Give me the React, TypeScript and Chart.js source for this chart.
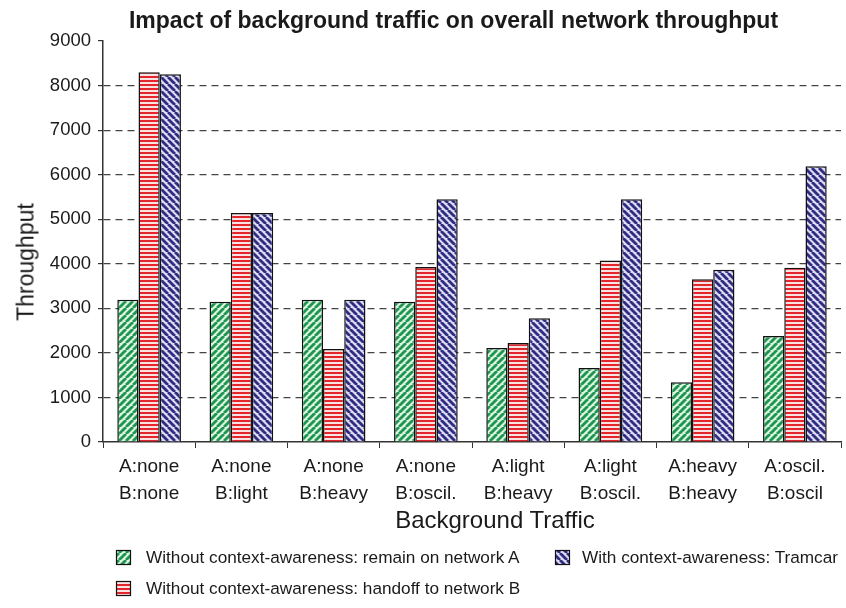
import React, { useEffect, useRef } from "react";
import { Chart, registerables } from "chart.js";

Chart.register(...registerables);

// ---------- data ----------
const titleText = "Impact of background traffic on overall network throughput";
const xAxisTitle = "Background Traffic";
const yAxisTitle = "Throughput";

const categories: string[][] = [
  ["A:none", "B:none"],
  ["A:none", "B:light"],
  ["A:none", "B:heavy"],
  ["A:none", "B:oscil."],
  ["A:light", "B:heavy"],
  ["A:light", "B:oscil."],
  ["A:heavy", "B:heavy"],
  ["A:oscil.", "B:oscil"],
];

const seriesLabels = [
  "Without context-awareness: remain on network A",
  "Without context-awareness: handoff to network B",
  "With context-awareness: Tramcar",
];

const remainOnA = [3195, 3150, 3195, 3150, 2108, 1659, 1343, 2380];
const handoffToB = [8296, 5140, 2085, 3930, 2220, 4075, 3650, 3910];
const tramcar = [8253, 5140, 3193, 5450, 2780, 5450, 3865, 6190];

const yMin = 0;
const yMax = 9000;
const yStep = 1000;

// ---------- styling ----------
const FONT = "'Liberation Sans', Arial, Helvetica, sans-serif";
const TEXT = "#1a1a1a";

function makePattern(kind: "/" | "\\" | "h", dark: string, light: string): CanvasPattern {
  const c = document.createElement("canvas");
  const s = kind === "h" ? 4 : 7;
  c.width = s;
  c.height = s;
  const g = c.getContext("2d")!;
  g.fillStyle = light;
  g.fillRect(0, 0, s, s);
  if (kind === "h") {
    g.fillStyle = dark;
    g.fillRect(0, 0, s, 2);
  } else {
    g.strokeStyle = dark;
    g.lineWidth = 2.8;
    for (let k = -1; k <= 1; k++) {
      g.beginPath();
      if (kind === "/") {
        g.moveTo(k * s, s);
        g.lineTo(k * s + s, 0);
      } else {
        g.moveTo(k * s, 0);
        g.lineTo(k * s + s, s);
      }
      g.stroke();
    }
  }
  return g.createPattern(c, "repeat")!;
}

const legendItems = [
  { box: { x: 116, y: 550 }, text: { x: 146, y: 558 } },
  { box: { x: 116, y: 581 }, text: { x: 146, y: 589 } },
  { box: { x: 555, y: 550 }, text: { x: 582, y: 558 } },
];

export default function App() {
  const ref = useRef<HTMLCanvasElement>(null);

  useEffect(() => {
    document.body.style.margin = "0";
    const canvas = ref.current!;
    const patterns = [
      makePattern("/", "#1f9650", "#dcf4e2"),
      makePattern("h", "#e3262c", "#fbe2e2"),
      makePattern("\\", "#2e2d80", "#dedcf4"),
    ];

    const swatchPlugin = {
      id: "legendSwatches",
      afterDraw(chart: any) {
        const c = chart.ctx as CanvasRenderingContext2D;
        legendItems.forEach((it, i) => {
          c.save();
          c.fillStyle = patterns[i];
          c.fillRect(it.box.x, it.box.y, 15, 15);
          c.strokeStyle = "#111";
          c.lineWidth = 1.2;
          c.strokeRect(it.box.x + 0.5, it.box.y + 0.5, 14, 14);
          c.restore();
        });
      },
    };

    const seriesData = [remainOnA, handoffToB, tramcar];

    const chart = new Chart(canvas, {
      type: "bar",
      data: {
        labels: categories,
        datasets: seriesData.map((d, i) => ({
          label: seriesLabels[i],
          data: d,
          backgroundColor: patterns[i],
          borderColor: "#111",
          borderWidth: 1.5,
          categoryPercentage: 0.69,
          barPercentage: 1,
        })),
      },
      options: {
        responsive: false,
        animation: false,
        layout: { padding: { top: 41, right: 5, bottom: 0, left: 0 } },
        plugins: {
          legend: { display: false },
          title: { display: false },
          tooltip: { enabled: false },
        },
        scales: {
          x: {
            grid: {
              display: true,
              drawOnChartArea: false,
              drawTicks: true,
              tickLength: 6,
              tickColor: "#333",
              offset: true,
            },
            border: { color: "#333", width: 1.5 },
            ticks: {
              autoSkip: false,
              maxRotation: 0,
              minRotation: 0,
              padding: 5,
              color: TEXT,
              font: { family: FONT, size: 19, lineHeight: 1.42 },
            },
            afterFit: (s: any) => {
              s.height = 166;
            },
          },
          y: {
            min: yMin,
            max: yMax,
            ticks: {
              stepSize: yStep,
              padding: 7,
              color: TEXT,
              font: { family: FONT, size: 18.5 },
              callback: (v: any) => String(v),
            },
            grid: {
              color: (ctx: any) =>
                ctx.tick && (ctx.tick.value === yMin || ctx.tick.value === yMax)
                  ? "rgba(0,0,0,0)"
                  : "#444",
              lineWidth: 1.2,
              tickColor: "#333",
              tickLength: 5,
            },
            border: { color: "#333", width: 1.5, dash: [7, 5] },
            afterFit: (s: any) => {
              s.width = 103;
            },
          },
        },
      } as any,
      plugins: [swatchPlugin],
    });
    return () => chart.destroy();
  }, []);

  const abs = (x: number, y: number): React.CSSProperties => ({
    position: "absolute",
    left: x,
    top: y,
    whiteSpace: "nowrap",
    fontFamily: FONT,
    color: TEXT,
    lineHeight: 1,
  });

  return (
    <div style={{ position: "fixed", left: 0, top: 0, width: 846, height: 608, background: "#fff" }}>
      <canvas ref={ref} width={846} height={608} style={{ position: "absolute", left: 0, top: 0 }} />
      <div style={{ ...abs(453.5, 20), fontSize: 23, fontWeight: "bold", transform: "translate(-50%, -50%)" }}>
        {titleText}
      </div>
      <div style={{ ...abs(26, 262), fontSize: 23, transform: "translate(-50%, -50%) rotate(-90deg)" }}>
        {yAxisTitle}
      </div>
      <div style={{ ...abs(495, 520), fontSize: 24, transform: "translate(-50%, -50%)" }}>{xAxisTitle}</div>
      {legendItems.map((it, i) => (
        <div key={i} style={{ ...abs(it.text.x, it.text.y), fontSize: 17.2, transform: "translateY(-50%)" }}>
          {seriesLabels[i]}
        </div>
      ))}
    </div>
  );
}
